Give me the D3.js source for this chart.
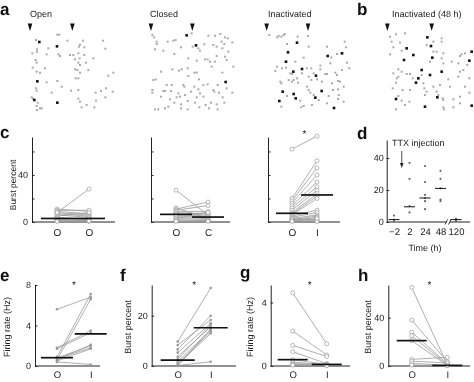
<!DOCTYPE html>
<html><head><meta charset="utf-8">
<script src="https://cdn.jsdelivr.net/npm/d3@7"></script>
<style>
body{margin:0;background:#fff;}
svg{font-family:"Liberation Sans",Arial,Helvetica,sans-serif;will-change:transform;}
text{text-rendering:geometricPrecision;}
</style></head><body>
<svg id="chart" width="474" height="382"></svg>
<script>
// ---------------- DATA ----------------
// Raster panels (a, b): spike events as [time bin, trial row] (0-285 units)
const rasterTitles = ["Open", "Closed", "Inactivated", "Inactivated (48 h)"];
const rasterArrows = [[15, 142], [18, 142], [14, 138], [22, 155]];
const openGray = [[97,44],[103,44],[33,60],[127,62],[174,62],[234,62],[70,85],[36,88],[36,95],[165,74],[162,80],[178,82],[241,86],[22,100],[65,103],[105,108],[100,103],[135,105],[145,105],[160,100],[178,105],[164,115],[150,118],[205,115],[32,120],[35,128],[160,128],[165,135],[183,128],[60,145],[23,143],[35,155],[45,158],[150,148],[157,150],[190,150],[165,158],[265,158],[250,167],[65,187],[97,183],[152,175],[160,175],[110,200],[33,205],[35,212],[138,212],[160,210],[243,205],[80,218],[212,218],[228,213],[263,215],[20,232],[24,236],[38,248],[160,236],[165,245],[213,242],[241,232],[35,258],[50,265],[45,265],[36,270],[170,262],[208,262],[185,255]];
const openBlack = [[43,66],[96,79],[37,184],[28,240],[97,248]];
const closedGray = [[22,45],[27,52],[140,40],[190,47],[210,47],[226,42],[240,52],[35,65],[35,72],[68,65],[85,62],[92,60],[143,80],[160,85],[165,92],[178,73],[205,75],[215,80],[230,65],[238,72],[232,85],[262,67],[248,55],[30,88],[55,92],[88,102],[108,82],[130,115],[155,122],[180,118],[188,118],[195,125],[215,108],[240,110],[250,95],[245,120],[48,155],[82,148],[102,152],[110,148],[128,145],[148,158],[155,158],[200,140],[210,125],[232,158],[265,140],[130,168],[162,178],[25,180],[32,178],[65,195],[80,195],[115,195],[118,200],[148,200],[160,208],[175,195],[188,193],[205,210],[218,195],[245,205],[22,210],[22,218],[55,213],[60,213],[78,213],[100,220],[138,215],[165,220],[208,215],[222,218],[262,218],[48,230],[75,238],[95,232],[105,230],[120,225],[155,232],[175,230],[233,232],[88,248],[108,253],[128,243],[150,248],[182,255],[198,248],[215,253],[238,248],[30,268],[40,268],[60,265],[70,260],[108,265],[128,268],[163,262],[192,265],[218,268]];
const closedBlack = [[125,46],[153,76],[242,186]];
const inactGray = [[22,45],[45,52],[50,48],[58,50],[65,45],[68,42],[107,50],[138,48],[75,72],[140,80],[195,80],[248,65],[252,82],[208,112],[225,102],[125,113],[100,125],[175,137],[205,130],[255,128],[45,140],[40,153],[60,145],[72,143],[135,145],[148,145],[85,160],[90,162],[105,175],[120,160],[155,160],[190,162],[195,162],[220,158],[225,165],[175,148],[240,150],[262,145],[55,185],[58,190],[80,180],[90,185],[95,180],[140,170],[148,180],[165,178],[180,185],[210,190],[228,183],[234,185],[108,188],[75,228],[135,200],[140,210],[145,218],[155,225],[213,210],[228,208],[245,200],[115,242],[170,240],[200,228],[230,225],[58,260],[125,258],[118,262],[150,255],[195,250],[245,245],[228,237]];
const inactBlack = [[105,68],[78,97],[240,100],[197,108],[72,125],[94,155],[120,147],[162,167],[62,215],[95,222],[179,213],[101,235],[160,233],[52,243],[216,264]];
const inact48Gray = [[30,50],[48,43],[75,40],[35,65],[60,68],[40,82],[140,75],[185,55],[185,65],[160,65],[65,92],[30,103],[160,95],[170,95],[190,100],[185,115],[150,125],[215,125],[190,130],[245,103],[240,108],[255,100],[235,130],[262,135],[250,150],[240,155],[55,148],[40,160],[65,155],[80,162],[90,162],[55,170],[50,175],[98,175],[125,165],[130,190],[48,188],[205,178],[235,170],[268,175],[180,195],[38,205],[68,210],[90,210],[133,205],[140,215],[160,200],[170,215],[210,200],[255,200],[268,218],[55,228],[65,242],[88,245],[175,225],[135,225],[188,235],[190,240],[220,238],[240,230],[75,255],[48,268],[190,262],[192,268],[220,262],[240,250]];
const inact48Black = [[142,52],[153,78],[80,85],[100,105],[72,120],[157,113],[275,95],[268,122],[125,150],[185,155],[115,175],[108,188],[150,165],[48,237],[172,232],[135,260],[275,257]];

// Panel c: burst percent, paired
const c1Labels = ["O", "O"];
const c1Pre  = [11, 10, 9, 8, 7, 6, 5, 4, 3, 2, 1.5, 1, 0.5, 8];
const c1Post = [9, 10, 7, 6, 5, 4, 8, 2, 3, 1, 2, 0.5, 1, 28];
const c1Med  = [3, 3];
const c2Labels = ["O", "C"];
const c2Pre  = [27, 12, 11, 10, 9, 8, 7, 6, 5, 4, 3, 2, 1, 0.5, 6];
const c2Post = [6, 3, 17, 14, 9, 7, 6, 5, 4, 3, 2, 1, 1, 0.5, 8];
const c2Med  = [6.5, 4.2];
const c3Labels = ["O", "I"];
const c3Pre  = [62, 20, 18, 16, 14, 12, 10, 8, 7, 6, 5, 4, 3, 2, 1, 3, 2, 1, 0.5];
const c3Post = [73, 52, 46, 40, 34, 30, 27, 24, 22, 20, 10, 8, 6, 5, 4, 2, 1, 0.5, 3];
const c3Med  = [7.4, 23];
const cTicks = [0, 20, 40, 60];
const cTickLabels = [0, 40];

// Panel d: burst percent over time after TTX
const dTimes = ["\u22122", "2", "24", "48", "120"];
const dValues = [[4, 1.5, 0.5], [37, 27, 10, 6], [35, 25, 17, 15, 13, 8], [32, 27, 21, 14, 13], [2, 1, 0.5]];
const dMedians = [1.5, 9.5, 15, 21, 1.5];
const dTicks = [0, 20, 40];

// Panels e-h
const ehLabels = ["O", "I"];
const ePre  = [5.6, 0.9, 0.6, 1.8, 1.7, 0.8, 0.7, 0.5, 0.4, 0.6];
const ePost = [6.8, 7.1, 6.6, 3.5, 3.3, 2.0, 1.8, 1.7, 0.15, 2.1];
const eMed  = [0.82, 3.17];
const fPre  = [9.7, 8.3, 6.6, 5.3, 3.7, 2.7, 1.8, 1.0, 0.5, 0.0, 0.2];
const fPost = [31, 18.3, 20, 17, 15.6, 16.5, 14.3, 13.6, 13, 14.8, 1.7];
const fMed  = [2.3, 15.2];
const gPre  = [4.6, 2.2, 1.3, 0.9, 0.4, 0.25, 0.15, 0.1, 0.05];
const gPost = [1.4, 0.7, 0.6, 0.15, 0.1, 0.05, 0.1, 0.05, 0.02];
const gMed  = [0.4, 0.1];
const hPre  = [65, 38, 28, 25, 21, 5.5, 4, 2.2, 0.8];
const hPost = [1, 3.6, 2, 1, 0.5, 7.2, 2.5, 0.5, 0.2];
const hMed  = [21, 0.5];

// ---------------- DRAWING ----------------
const svg = d3.select("#chart");
const INK = "#222", GRAY = "#9a9a9a";

function letter(t, x, y) {
  svg.append("text").attr("x", x).attr("y", y).attr("font-size", 17)
    .attr("font-weight", "bold").attr("fill", "#111").text(t);
}
letter("a", 0, 15); letter("b", 357, 15); letter("c", 0, 138); letter("d", 357, 139);
letter("e", 0, 281); letter("f", 120, 281); letter("g", 240, 278); letter("h", 358, 281);

// Raster panels
const rasterSets = [[openGray, openBlack], [closedGray, closedBlack], [inactGray, inactBlack], [inact48Gray, inact48Black]];
const rasterOrigin = [[25, 20], [145, 20], [262, 20], [380, 20]];
const rasterTitleX = [30, 150, 268, 392];
rasterSets.forEach((set, i) => {
  const [ox, oy] = rasterOrigin[i];
  const x = d3.scaleLinear().domain([0, 285]).range([ox, ox + 95]);
  const y = d3.scaleLinear().domain([0, 285]).range([oy, oy + 95]);
  const g = svg.append("g");
  g.append("text").attr("x", rasterTitleX[i]).attr("y", 17).attr("font-size", 9)
    .attr("fill", INK).text(rasterTitles[i]);
  g.selectAll("path.arrow").data(rasterArrows[i]).join("path")
    .attr("d", d => `M${x(d) - 2.3},23.5L${x(d) + 2.3},23.5L${x(d)},31Z`).attr("fill", "#111");
  g.selectAll("rect.gray").data(set[0]).join("rect")
    .attr("x", d => x(d[0]) - 1).attr("y", d => y(d[1]) - 1)
    .attr("width", 2).attr("height", 2).attr("fill", "#aaa");
  g.selectAll("rect.black").data(set[1]).join("rect")
    .attr("x", d => x(d[0]) - 1.3).attr("y", d => y(d[1]) - 1.3)
    .attr("width", 2.6).attr("height", 2.6).attr("fill", "#111");
});

function styleAxis(sel) {
  sel.selectAll(".domain").attr("stroke", INK);
  sel.selectAll(".tick line").attr("stroke", INK);
  sel.selectAll(".tick text").attr("fill", INK).attr("font-size", 9)
    .attr("font-family", '"Liberation Sans",Arial,sans-serif');
}

function paired(p) {
  const g = svg.append("g");
  const y = d3.scaleLinear().domain([0, p.max]).range([p.yb, p.yt]);
  const x = d3.scalePoint().domain([0, 1]).range(p.pos);
  const ya = g.append("g").attr("transform", `translate(${p.ax0},0)`)
    .call(d3.axisLeft(y).tickValues(p.ticks).tickSizeInner(-2.5).tickSizeOuter(0).tickPadding(4)
      .tickFormat(d => p.tickLabels.includes(d) ? d : ""));
  styleAxis(ya);
  g.append("path").attr("d", d3.line()([[p.ax0, p.yb], [p.ax1, p.yb]])).attr("stroke", INK).attr("fill", "none");
  const xa = g.append("g").attr("transform", `translate(0,${p.yb})`)
    .call(d3.axisBottom(x).tickSize(0).tickPadding(p.xpad || 7).tickFormat(i => p.labels[i]));
  xa.select(".domain").remove();
  styleAxis(xa);
  xa.selectAll(".tick text").attr("font-size", p.xfs || 10);
  const pairs = p.pre.map((v, i) => [v, p.post[i]]);
  g.selectAll("line.pair").data(pairs).join("line")
    .attr("x1", x(0)).attr("x2", x(1)).attr("y1", d => y(d[0])).attr("y2", d => y(d[1]))
    .attr("stroke", GRAY).attr("stroke-width", 0.8);
  const pts = pairs.flatMap(d => [[0, d[0]], [1, d[1]]]);
  g.selectAll("circle.pt").data(pts).join("circle")
    .attr("cx", d => x(d[0])).attr("cy", d => y(d[1]))
    .attr("r", p.open ? 2 : 1.3)
    .attr("fill", p.open ? "#fff" : GRAY).attr("stroke", GRAY).attr("stroke-width", p.open ? 0.7 : 0);
  g.selectAll("line.med").data(p.med).join("line")
    .attr("x1", (d, i) => x(i) - p.mh).attr("x2", (d, i) => x(i) + p.mh)
    .attr("y1", d => y(d)).attr("y2", d => y(d)).attr("stroke", "#111").attr("stroke-width", 1.7);
  if (p.star) g.append("text").attr("x", (p.pos[0] + p.pos[1]) / 2).attr("y", p.star)
    .attr("text-anchor", "middle").attr("font-size", 10).attr("fill", INK).text("*");
  if (p.ylab) g.append("text").attr("transform", `translate(${p.ylab[1]},${p.ylab[2]}) rotate(-90)`)
    .attr("text-anchor", "middle").attr("font-size", p.ylab[3]).attr("fill", INK).text(p.ylab[0]);
}

paired({pre: c1Pre, post: c1Post, med: c1Med, labels: c1Labels, ax0: 32, ax1: 115, pos: [57, 89],
  yb: 222, yt: 137, max: 72.3, ticks: cTicks, tickLabels: cTickLabels, open: true, mh: 16,
  ylab: ["Burst percent", 16, 185, 8.5]});
paired({pre: c2Pre, post: c2Post, med: c2Med, labels: c2Labels, ax0: 151, ax1: 230, pos: [176, 208],
  yb: 222, yt: 137, max: 72.3, ticks: cTicks, tickLabels: [], open: true, mh: 16});
paired({pre: c3Pre, post: c3Post, med: c3Med, labels: c3Labels, ax0: 268, ax1: 340, pos: [292, 317],
  yb: 222, yt: 137, max: 72.3, ticks: cTicks, tickLabels: [], open: true, mh: 16, star: 137});
const bottomPad = 5, bottomFs = 9.5;
paired({pre: ePre, post: ePost, med: eMed, labels: ehLabels, ax0: 35, ax1: 100, pos: [57, 90.7],
  yb: 366, yt: 285, max: 8, ticks: [0, 4, 8], tickLabels: [0, 4, 8], open: false, mh: 16, star: 288,
  xpad: bottomPad, xfs: bottomFs, ylab: ["Firing rate (Hz)", 10, 327, 9]});
paired({pre: fPre, post: fPost, med: fMed, labels: ehLabels, ax0: 151.7, ax1: 236, pos: [177.7, 210.7],
  yb: 366, yt: 285, max: 32.2, ticks: [0, 20], tickLabels: [0, 20], open: false, mh: 17, star: 288,
  xpad: bottomPad, xfs: bottomFs, ylab: ["Burst percent", 131, 327, 9]});
paired({pre: gPre, post: gPost, med: gMed, labels: ehLabels, ax0: 270.7, ax1: 350, pos: [292.7, 326.7],
  yb: 366, yt: 285, max: 5.1, ticks: [0, 4], tickLabels: [0, 4], open: true, mh: 15, star: 288,
  xpad: bottomPad, xfs: bottomFs, ylab: ["Firing rate (Hz)", 253, 327, 9]});
paired({pre: hPre, post: hPost, med: hMed, labels: ehLabels, ax0: 388.3, ax1: 470, pos: [411.7, 447.3],
  yb: 366, yt: 285, max: 67, ticks: [0, 40], tickLabels: [0, 40], open: true, mh: 15, star: 288,
  xpad: bottomPad, xfs: bottomFs, ylab: ["Burst percent", 371, 327, 9]});

// Panel d
(function () {
  const g = svg.append("g");
  const y = d3.scaleLinear().domain([0, 51.25]).range([222, 140]);
  const x = d3.scalePoint().domain(dTimes).range([394, 456]);
  const ya = g.append("g").attr("transform", "translate(386.7,0)")
    .call(d3.axisLeft(y).tickValues(dTicks).tickSizeInner(-2.5).tickSizeOuter(0).tickPadding(3));
  styleAxis(ya);
  g.append("path").attr("d", d3.line()([[386.7, 222], [446.5, 222]])).attr("stroke", INK).attr("fill", "none");
  g.append("path").attr("d", d3.line()([[450, 222], [470, 222]])).attr("stroke", INK).attr("fill", "none");
  g.append("path").attr("d", "M445,224.5L447.5,219.5M448.5,224.5L451,219.5").attr("stroke", INK).attr("stroke-width", 0.9);
  const xa = g.append("g").attr("transform", "translate(0,222)")
    .call(d3.axisBottom(x).tickSize(0).tickPadding(6));
  xa.select(".domain").remove();
  styleAxis(xa);
  xa.selectAll(".tick text").attr("font-size", 9.5);
  g.append("text").attr("x", 425).attr("y", 251).attr("text-anchor", "middle").attr("font-size", 9).attr("fill", INK).text("Time (h)");
  const pts = dValues.flatMap((vals, i) => vals.map(v => [dTimes[i], v]));
  g.selectAll("circle.dp").data(pts).join("circle")
    .attr("cx", d => x(d[0])).attr("cy", d => y(d[1])).attr("r", 1.1).attr("fill", "#666");
  g.selectAll("line.dm").data(dMedians).join("line")
    .attr("x1", (d, i) => x(dTimes[i]) - 5.5).attr("x2", (d, i) => x(dTimes[i]) + 5.5)
    .attr("y1", d => y(d)).attr("y2", d => y(d)).attr("stroke", "#111").attr("stroke-width", 1);
  g.append("text").attr("x", 392).attr("y", 146).attr("font-size", 9).attr("fill", INK).text("TTX injection");
  const ax = (x(dTimes[0]) + x(dTimes[1])) / 2;
  g.append("line").attr("x1", ax).attr("x2", ax).attr("y1", 151).attr("y2", 164).attr("stroke", INK).attr("stroke-width", 0.8);
  g.append("path").attr("d", `M${ax - 1.8},163L${ax + 1.8},163L${ax},168Z`).attr("fill", INK);
})();
</script>
</body></html>
